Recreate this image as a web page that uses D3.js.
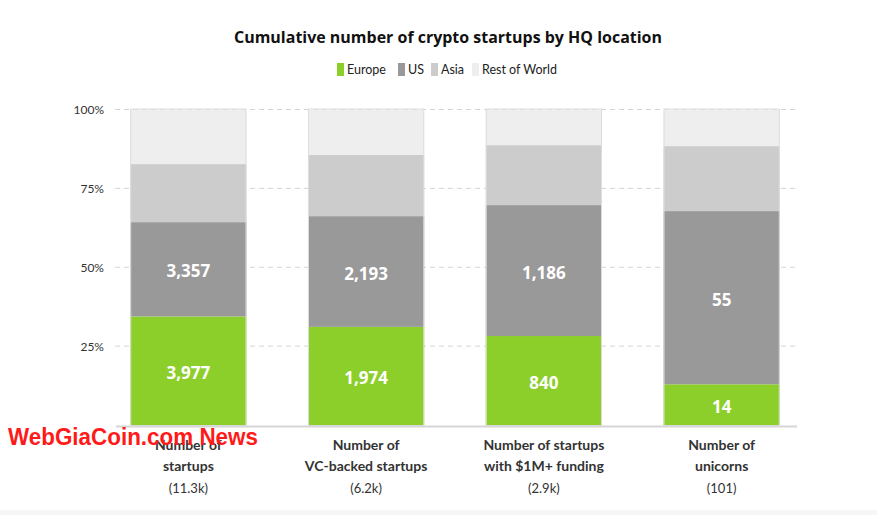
<!DOCTYPE html>
<html><head><meta charset="utf-8">
<script src="https://cdn.jsdelivr.net/npm/d3@7"></script>
<style>
html,body{margin:0;padding:0;background:#fff;}
svg{display:block;font-family:"Lato","Open Sans",sans-serif;}
</style></head>
<body><svg id="chart" width="877" height="515"></svg>
<script>
const categories = [
  ["Number of", "startups", "(11.3k)"],
  ["Number of", "VC-backed startups", "(6.2k)"],
  ["Number of startups", "with $1M+ funding", "(2.9k)"],
  ["Number of", "unicorns", "(101)"]
];
const seriesNames = ["Europe", "US", "Asia", "Rest of World"];
const europeShare = [34.4, 31.1, 28.2, 12.9];
const usShare = [29.9, 35.1, 41.5, 54.9];
const asiaShare = [18.4, 19.4, 19.0, 20.6];
const rowShare = [17.3, 14.4, 11.3, 11.6];
const europeLabels = ["3,977", "1,974", "840", "14"];
const usLabels = ["3,357", "2,193", "1,186", "55"];
const yTicks = [0.25, 0.5, 0.75, 1];
const colors = ["#8ccf2a", "#999999", "#cccccc", "#eeeeee"];

const svg = d3.select("#chart");
const W = 877, H = 515;

svg.append("rect").attr("x",0).attr("y",510).attr("width",W).attr("height",5).attr("fill","#f5f6f8");

const x = d3.scaleBand().domain(d3.range(categories.length)).range([100, 810]).paddingInner(0.346).paddingOuter(0.17);
const y = d3.scaleLinear().domain([0, 1]).range([425, 109.5]);

// grid
svg.append("g").selectAll("line").data(yTicks).join("line")
  .attr("x1", 115).attr("x2", 796)
  .attr("y1", d => y(d)).attr("y2", d => y(d))
  .attr("stroke", "#d4d4d4").attr("stroke-dasharray", "5,4").attr("stroke-width", 1);

// y axis labels
const yAxis = d3.axisLeft(y).tickValues(yTicks).tickFormat(d3.format(".0%")).tickSize(0).tickPadding(0);
const ya = svg.append("g").attr("transform", "translate(104,0)").call(yAxis);
ya.select(".domain").remove();
ya.selectAll("text").attr("font-size", 12).attr("fill", "#333").attr("font-family", "Lato, sans-serif").attr("dy","0.35em");

// stacked data
const rows = categories.map((c, i) => ({Europe: europeShare[i], US: usShare[i], Asia: asiaShare[i], "Rest of World": rowShare[i]}));
const stack = d3.stack().keys(seriesNames).offset(d3.stackOffsetExpand)(rows);

const gBars = svg.append("g");
stack.forEach((layer, li) => {
  gBars.append("g").selectAll("rect").data(layer).join("rect")
    .attr("x", (d, i) => x(i))
    .attr("width", x.bandwidth())
    .attr("y", d => y(d[1]))
    .attr("height", d => y(d[0]) - y(d[1]))
    .attr("fill", colors[li]);
});
// bar outlines
gBars.append("g").selectAll("rect").data(categories).join("rect")
  .attr("x", (d, i) => x(i) + 0.5).attr("width", x.bandwidth() - 1)
  .attr("y", y(1) - 0.5).attr("height", y(0) - y(1) + 1)
  .attr("fill", "none").attr("stroke", "#dddddd").attr("stroke-width", 1);

// baseline
svg.append("line").attr("x1", 116).attr("x2", 797).attr("y1", 426.5).attr("y2", 426.5)
  .attr("stroke", "#d6d6d6").attr("stroke-width", 2);

// value labels
const labelSets = [europeLabels, usLabels];
labelSets.forEach((labs, li) => {
  svg.append("g").selectAll("text").data(stack[li]).join("text")
    .attr("x", (d, i) => x(i) + x.bandwidth() / 2)
    .attr("y", d => (y(d[0]) + y(d[1])) / 2 + 2)
    .attr("dy", "0.36em")
    .attr("text-anchor", "middle")
    .attr("font-size", 17).attr("font-weight", "bold").attr("fill", "#fff")
    .attr("font-family", "Open Sans, sans-serif")
    .text((d, i) => labs[i]);
});

// category labels
const gc = svg.append("g");
categories.forEach((c, i) => {
  const cx = x(i) + x.bandwidth() / 2;
  gc.append("text").attr("x", cx).attr("y", 450).attr("text-anchor", "middle")
    .attr("font-size", 14).attr("font-weight", "bold").attr("fill", "#333").text(c[0]);
  gc.append("text").attr("x", cx).attr("y", 471).attr("text-anchor", "middle")
    .attr("font-size", 14).attr("font-weight", "bold").attr("fill", "#333").text(c[1]);
  gc.append("text").attr("x", cx).attr("y", 493).attr("text-anchor", "middle")
    .attr("font-size", 13).attr("fill", "#333").text(c[2]);
});

// title
svg.append("text").attr("x", 448).attr("y", 43).attr("text-anchor", "middle")
  .attr("font-size", 16.5).attr("font-weight", "bold").attr("fill", "#111")
  .attr("font-family", "Open Sans, sans-serif")
  .attr("textLength", 428).attr("lengthAdjust", "spacingAndGlyphs")
  .text("Cumulative number of crypto startups by HQ location");

// legend
const legendX = [337, 398, 431, 472];
const lg = svg.append("g");
seriesNames.forEach((n, i) => {
  lg.append("rect").attr("x", legendX[i]).attr("y", 63).attr("width", 7).attr("height", 13).attr("fill", colors[i]);
  lg.append("text").attr("x", legendX[i] + 10).attr("y", 74).attr("font-size", 12.5).attr("fill", "#222").text(n);
});

// watermark
svg.append("text").attr("x", 8).attr("y", 445).attr("font-size", 23).attr("font-weight", "bold")
  .attr("font-family", "Liberation Sans Narrow, Liberation Sans, sans-serif")
  .attr("fill", "#ff1a1a").attr("textLength", 250).attr("lengthAdjust", "spacingAndGlyphs")
  .text("WebGiaCoin.com News");
</script></body></html>
